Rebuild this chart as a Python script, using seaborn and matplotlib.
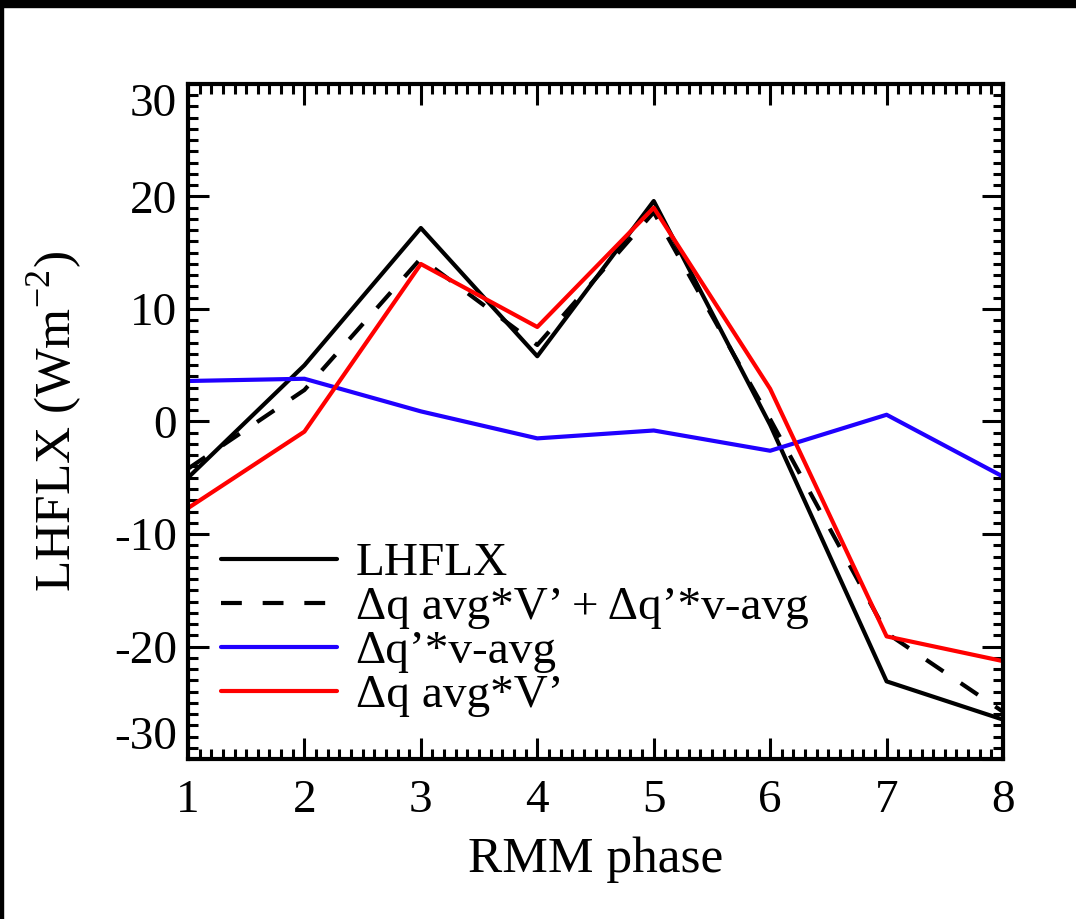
import numpy as np
import pandas as pd
import matplotlib
matplotlib.use("Agg")
import matplotlib.pyplot as plt
from matplotlib.patches import Rectangle
from matplotlib.ticker import MultipleLocator
import seaborn as sns

# RMM phases and composite latent heat flux terms (W m-2)
phase = [1, 2, 3, 4, 5, 6, 7, 8]
lhflx = [-5.0, 5.0, 17.2, 5.8, 19.6, -0.3, -23.1, -26.5]
total_term = [-4.2, 2.8, 14.5, 6.8, 18.6, 0.2, -18.8, -25.8]
dq_prime_v_avg = [3.6, 3.8, 0.9, -1.5, -0.8, -2.6, 0.6, -4.9]
dq_avg_v_prime = [-7.7, -0.9, 14.0, 8.4, 19.0, 2.9, -19.1, -21.3]

y_ticks = [-30, -20, -10, 0, 10, 20, 30]
x_ticks = [1, 2, 3, 4, 5, 6, 7, 8]

labels = ["LHFLX",
          "\u0394q avg*V\u2019 + \u0394q\u2019*v-avg",
          "\u0394q\u2019*v-avg",
          "\u0394q avg*V\u2019"]

sns.set_theme(style="ticks")
plt.rcParams["font.family"] = ["Liberation Serif", "DejaVu Serif"]
plt.rcParams["mathtext.fontset"] = "custom"
plt.rcParams["mathtext.rm"] = "Liberation Serif"
plt.rcParams["axes.unicode_minus"] = False
for key in ["text.color", "axes.labelcolor", "xtick.color", "ytick.color"]:
    plt.rcParams[key] = "black"

fig = plt.figure(figsize=(10.76, 9.19), dpi=100)
ax = fig.add_axes([0.1747, 0.1741, 0.9322 - 0.1747, 0.9086 - 0.1741])

series = [(lhflx, "black", None),
          (total_term, "black", (5, 5)),
          (dq_prime_v_avg, "#2000ff", None),
          (dq_avg_v_prime, "#ff0000", None)]
for (vals, col, dash), lab in zip(series, labels):
    df = pd.DataFrame({"phase": phase, "value": vals})
    line_kw = {"dashes": dash} if dash else {}
    sns.lineplot(data=df, x="phase", y="value", ax=ax, color=col,
                 linewidth=3, label=lab, **line_kw)

ax.set_xlim(1, 8)
ax.set_ylim(-30, 30)
ax.set_xticks(x_ticks)
ax.set_yticks(y_ticks)
ax.xaxis.set_minor_locator(MultipleLocator(0.1))
ax.yaxis.set_minor_locator(MultipleLocator(1))
ax.tick_params(which="both", direction="in", top=True, right=True,
               width=2.2, color="black", labelcolor="black")
ax.tick_params(which="major", length=15, labelsize=34)
ax.tick_params(which="minor", length=7)
ax.tick_params(axis="x", which="major", pad=15)
ax.tick_params(axis="y", which="major", pad=8)
for s in ax.spines.values():
    s.set_linewidth(3)
    s.set_color("black")

# keep end labels inside the axis span
ylabels = ax.get_yticklabels()
ylabels[0].set_va("bottom")
ylabels[-1].set_va("top")

ax.set_xlabel("RMM phase", fontsize=37, labelpad=10)
ax.set_ylabel("LHFLX (Wm$^{-2}$)", fontsize=37)
ax.yaxis.set_label_coords(-0.163, 0.5)
ax.yaxis.label.set_va("center")

leg = ax.legend(loc="upper left", bbox_to_anchor=(0.0, 0.37), frameon=False,
                fontsize=34, handlelength=2.45, handletextpad=0.4,
                labelspacing=0.02, borderaxespad=0.3)
for h in leg.get_lines():
    h.set_linewidth(3)

# dark frame along the top and left edges of the image
fig.patches.append(Rectangle((0, 1 - 7 / 919), 1, 7 / 919, transform=fig.transFigure,
                             color="black", zorder=10))
fig.patches.append(Rectangle((0, 0), 3 / 1076, 1, transform=fig.transFigure,
                             color="black", zorder=10))

fig.savefig("out.png", dpi=100, facecolor="white")
